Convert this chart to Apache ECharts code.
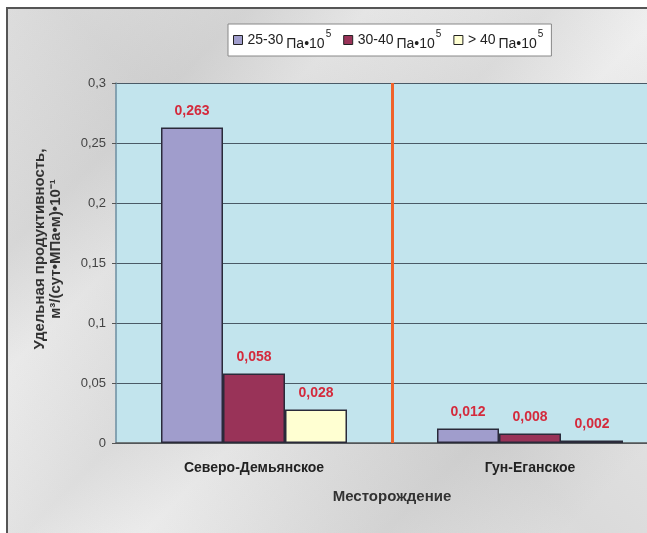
<!DOCTYPE html>
<html>
<head>
<meta charset="utf-8">
<script src="https://cdn.jsdelivr.net/npm/echarts@6/dist/echarts.min.js"></script>
<style>
html,body{margin:0;padding:0;width:647px;height:533px;overflow:hidden;background:#fff;}
#frame{position:absolute;left:6px;top:7px;width:660px;height:540px;border-left:2px solid #555;border-top:2px solid #555;
background:
 linear-gradient(135deg, rgba(150,150,150,0.0) 0%, rgba(150,150,150,0.18) 20%, rgba(255,255,255,0) 30%, rgba(140,140,140,0.15) 45%, rgba(255,255,255,0) 55%, rgba(150,150,150,0.2) 75%, rgba(255,255,255,0) 90%),
 linear-gradient(45deg, rgba(255,255,255,0.5) 0%, rgba(200,200,200,0.3) 50%, rgba(255,255,255,0.5) 100%),
 #e2e2e2;}
#chart{position:absolute;left:0;top:0;width:700px;height:533px;}
</style>
</head>
<body>
<div id="frame"></div>
<div id="chart"></div>
<script>
var categories = ['Северо-Демьянское', 'Гун-Еганское'];
var seriesNames = ['25-30', '30-40', '> 40'];
var values2530 = [0.263, 0.012];
var values3040 = [0.058, 0.008];
var values40 = [0.028, 0.002];
var yTicks = [0, 0.05, 0.1, 0.15, 0.2, 0.25, 0.3];
var separatorPositions = [1];

var colors = ['#a09dcc', '#993358', '#ffffd2'];
var allValues = [values2530, values3040, values40];

var chart = echarts.init(document.getElementById('chart'), null, {renderer: 'canvas'});

function fmt(v) { return String(v).replace('.', ','); }

var series = seriesNames.map(function (name, i) {
  return {
    name: name,
    type: 'bar',
    data: allValues[i],
    barWidth: 62,
    barGap: '0%',
    itemStyle: {color: colors[i], borderColor: '#2a2a3a', borderWidth: 1.5},
    label: {
      show: true, position: 'top', distance: 9,
      formatter: function (p) { return p.value.toFixed(3).replace('.', ','); },
      color: '#d42a3c', fontWeight: 'bold', fontSize: 14, fontFamily: 'Liberation Sans, Arial'
    }
  };
});

series.push({
  name: 'separator',
  type: 'line',
  xAxisIndex: 1,
  data: [],
  silent: true,
  markLine: {
    silent: true,
    symbol: 'none',
    label: {show: false},
    emphasis: {disabled: true},
    lineStyle: {color: '#f0622a', width: 3, type: 'solid', opacity: 1},
    data: separatorPositions.map(function (v) { return {xAxis: v}; })
  }
});

var option = {
  animation: false,
  backgroundColor: 'transparent',
  textStyle: {fontFamily: 'Liberation Sans, Arial'},
  legend: {
    left: 228, top: 24,
    itemWidth: 9, itemHeight: 9, itemGap: 12,
    padding: [5, 8, 5, 5],
    backgroundColor: '#ffffff',
    borderColor: '#888', borderWidth: 1,
    icon: 'rect',
    itemStyle: {borderColor: '#222', borderWidth: 1},
    formatter: function (name) { return '{a|' + name + '}{b|Па•10}{c|5}'; },
    textStyle: {
      color: '#222',
      rich: {
        a: {fontSize: 14, color: '#222', verticalAlign: 'middle', lineHeight: 22},
        b: {fontSize: 14, color: '#222', verticalAlign: 'bottom', lineHeight: 22, padding: [7, 0, 0, 3]},
        c: {fontSize: 10, color: '#222', verticalAlign: 'top', lineHeight: 22, padding: [0, 0, 7, 1]}
      }
    },
    data: seriesNames
  },
  grid: {
    left: 116, top: 83, width: 552, height: 360,
    show: true, backgroundColor: '#c2e4ed', borderWidth: 0
  },
  xAxis: [{
    type: 'category',
    data: categories,
    name: 'Месторождение',
    nameLocation: 'middle',
    nameGap: 46,
    nameTextStyle: {fontWeight: 'bold', fontSize: 15, color: '#333'},
    axisLine: {show: true, lineStyle: {color: '#555', width: 1.5}},
    axisTick: {show: false},
    axisLabel: {margin: 18, fontWeight: 'bold', fontSize: 14, color: '#222'},
    splitLine: {show: false}
  }, {
    type: 'value',
    min: 0, max: categories.length,
    show: false,
    position: 'bottom'
  }],
  yAxis: {
    type: 'value',
    min: 0, max: 0.3, interval: 0.05,
    name: 'Удельная продуктивность,\nм³/(сут•МПа•м)•10⁻¹',
    nameLocation: 'middle',
    nameGap: 52,
    nameTextStyle: {fontWeight: 'bold', fontSize: 15, color: '#333', lineHeight: 16, padding: [0, 0, 0, 28]},
    axisLine: {show: true, lineStyle: {color: '#6b8ea0', width: 1.5}},
    axisTick: {show: true, length: 4, lineStyle: {color: '#555'}},
    axisLabel: {
      margin: 10, fontSize: 13, color: '#444',
      formatter: function (v) {
        for (var k = 0; k < yTicks.length; k++) {
          if (Math.abs(yTicks[k] - v) < 1e-9) return fmt(yTicks[k]);
        }
        return '';
      }
    },
    splitLine: {show: true, lineStyle: {color: '#4a5a66', width: 1}}
  },
  series: series
};
chart.setOption(option);
</script>
</body>
</html>
